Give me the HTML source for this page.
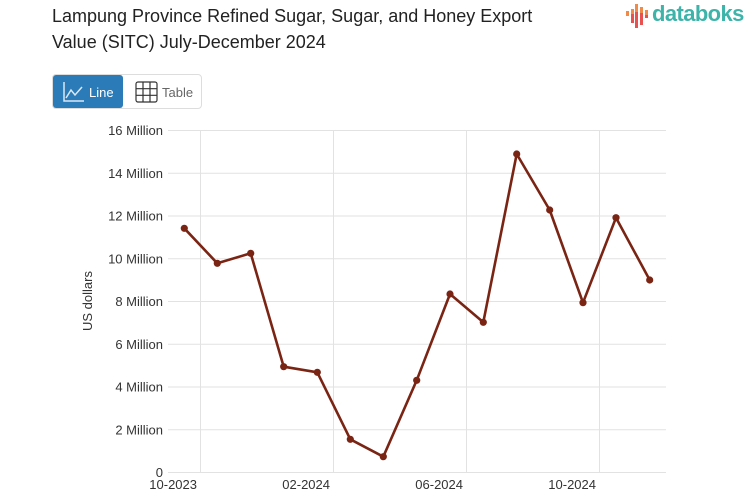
<!DOCTYPE html>
<html><head><meta charset="utf-8">
<style>
html,body{margin:0;padding:0;background:#fff;}
body{width:753px;height:498px;position:relative;overflow:hidden;font-family:"Liberation Sans",Arial,sans-serif;}
.title{position:absolute;left:52px;top:3px;font-size:18px;line-height:26px;color:#222;letter-spacing:0px;}
.logo{position:absolute;left:652px;top:1px;font-size:22px;font-weight:bold;color:#3db3aa;letter-spacing:-0.6px;}
.btns{position:absolute;left:52px;top:74px;width:150px;height:35px;border:1px solid #ddd;border-radius:4px;box-sizing:border-box;}
.b1{position:absolute;left:0;top:0;width:70px;height:33px;background:#2b7bb8;border-radius:3px;color:#fff;font-size:13px;}
.b2{position:absolute;left:82px;top:0;height:33px;color:#666;font-size:13px;}
</style></head><body>
<div class="title">Lampung Province Refined Sugar, Sugar, and Honey Export<br>Value (SITC) July-December 2024</div>
<svg style="position:absolute;left:624px;top:2px" width="30" height="28">
<rect x="2" y="9" width="3" height="5" fill="#f08a4b"/>
<rect x="7" y="7" width="3" height="5" fill="#f08a4b"/><rect x="7" y="12" width="3" height="9" fill="#e8514f"/>
<rect x="11" y="2" width="3" height="8" fill="#f08a4b"/><rect x="11" y="10" width="3" height="16" fill="#e8514f"/>
<rect x="16" y="5" width="3" height="6" fill="#f08a4b"/><rect x="16" y="11" width="3" height="12" fill="#e8514f"/>
<rect x="21" y="8" width="3" height="5" fill="#f08a4b"/><rect x="21" y="13" width="3" height="3" fill="#e8514f"/>
</svg>
<div class="logo">databoks</div>
<div class="btns">
<div class="b1">
<svg style="position:absolute;left:10px;top:6px" width="22" height="22"><path d="M1 1 V20 H21" stroke="#d9e8f4" stroke-width="1.5" fill="none"/><path d="M3 17 L8 9 L12 14 L19 6" stroke="#d9e8f4" stroke-width="1.5" fill="none"/></svg>
<span style="position:absolute;left:36px;top:10px">Line</span>
</div>
<div class="b2">
<svg style="position:absolute;left:0;top:6px" width="24" height="22"><rect x="1" y="1" width="21" height="20" rx="2" stroke="#333" stroke-width="1.2" fill="none"/><path d="M8 1V21M15 1V21M1 7.7H22M1 14.3H22" stroke="#333" stroke-width="1.2"/></svg>
<span style="position:absolute;left:27px;top:10px">Table</span>
</div>
</div>
<svg style="position:absolute;left:0;top:0" width="753" height="498">
<g stroke="#e2e2e2" stroke-width="1">
<line x1="168" y1="130.5" x2="666" y2="130.5"/>
<line x1="168" y1="173.3" x2="666" y2="173.3"/>
<line x1="168" y1="216" x2="666" y2="216"/>
<line x1="168" y1="258.8" x2="666" y2="258.8"/>
<line x1="168" y1="301.5" x2="666" y2="301.5"/>
<line x1="168" y1="344.3" x2="666" y2="344.3"/>
<line x1="168" y1="387" x2="666" y2="387"/>
<line x1="168" y1="429.8" x2="666" y2="429.8"/>
<line x1="168" y1="472.5" x2="666" y2="472.5"/>
<line x1="200.5" y1="130" x2="200.5" y2="472"/>
<line x1="333.5" y1="130" x2="333.5" y2="472"/>
<line x1="466.5" y1="130" x2="466.5" y2="472"/>
<line x1="599.5" y1="130" x2="599.5" y2="472"/>
</g>
<g font-family="Liberation Sans, Arial, sans-serif" font-size="13" fill="#333" text-anchor="end">
<text x="163" y="135">16 Million</text>
<text x="163" y="178">14 Million</text>
<text x="163" y="220.5">12 Million</text>
<text x="163" y="263.5">10 Million</text>
<text x="163" y="306">8 Million</text>
<text x="163" y="349">6 Million</text>
<text x="163" y="391.5">4 Million</text>
<text x="163" y="434.5">2 Million</text>
<text x="163" y="477">0</text>
<text x="197" y="489">10-2023</text>
<text x="330" y="489">02-2024</text>
<text x="463" y="489">06-2024</text>
<text x="596" y="489">10-2024</text>
</g>
<text transform="translate(92,301) rotate(-90)" font-family="Liberation Sans, Arial, sans-serif" font-size="13" fill="#333" text-anchor="middle">US dollars</text>
<polyline fill="none" stroke="#7a2414" stroke-width="2.6" stroke-linejoin="round" points="184.3,228.3 217.3,263.3 250.7,253.3 283.7,366.7 317.3,372.3 350.3,439.3 383.3,456.7 416.7,380.3 450,294 483.3,322.3 516.7,154 549.7,210 583,302.7 616,217.7 649.7,280"/>
<g fill="#7a2414">
<circle cx="184.3" cy="228.3" r="3.6"/><circle cx="217.3" cy="263.3" r="3.6"/><circle cx="250.7" cy="253.3" r="3.6"/><circle cx="283.7" cy="366.7" r="3.6"/><circle cx="317.3" cy="372.3" r="3.6"/><circle cx="350.3" cy="439.3" r="3.6"/><circle cx="383.3" cy="456.7" r="3.6"/><circle cx="416.7" cy="380.3" r="3.6"/><circle cx="450" cy="294" r="3.6"/><circle cx="483.3" cy="322.3" r="3.6"/><circle cx="516.7" cy="154" r="3.6"/><circle cx="549.7" cy="210" r="3.6"/><circle cx="583" cy="302.7" r="3.6"/><circle cx="616" cy="217.7" r="3.6"/><circle cx="649.7" cy="280" r="3.6"/>
</g>
</svg>
</body></html>
